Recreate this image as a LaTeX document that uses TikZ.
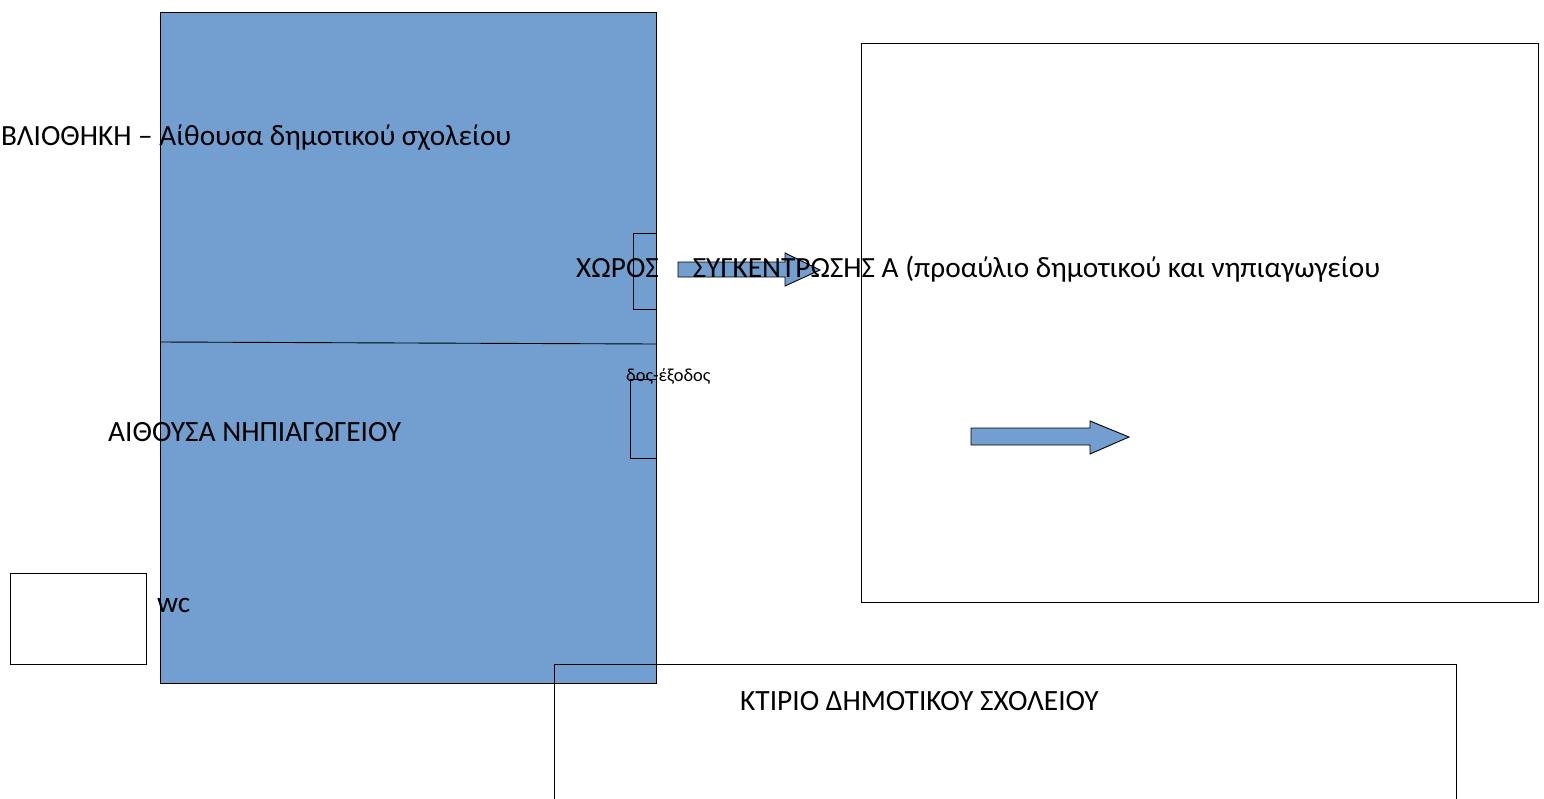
\documentclass[tikz,border=0pt]{standalone}
\usepackage{fontspec}
\setmainfont{Carlito}
\definecolor{roomblue}{HTML}{729FCF}
\tikzset{
  wall/.style={draw=black, line width=0.9pt},
  room/.style={wall, fill=roomblue},
  lbl/.style={inner sep=0pt, anchor=base west, text=black},
  bigtxt/.style={lbl, font=\fontsize{29.3}{35}\selectfont},
  midtxt/.style={lbl, font=\fontsize{29.4}{35}\selectfont},
  smalltxt/.style={lbl, font=\fontsize{18.4}{22}\selectfont},
  flowarrow/.style={draw=black, line width=0.9pt, fill=roomblue}
}
\begin{document}
\begin{tikzpicture}[x=1pt,y=-1pt]
\useasboundingbox (0,0) rectangle (1544,798);
\clip (0,0) rectangle (1544,798);
% main blue building
\draw[room] (160,12) rectangle (656,683);
\draw[wall] (160,342) -- (656,344);
% doors
\draw[wall] (633,233) rectangle (656,309);
\draw[wall] (630,379) rectangle (656,458);
% wc
\draw[wall] (10,573) rectangle (146,664);
% yard
\draw[wall] (861,43) rectangle (1538,602);
% primary school building
\draw[wall] (554,800) -- (554,664) -- (1456,664) -- (1456,800);
% arrows
\draw[flowarrow] (678,262) -- (785,262) -- (785,253) -- (820,270) -- (785,286) -- (785,277) -- (678,277) -- cycle;
\draw[flowarrow] (971,428) -- (1090,428) -- (1090,421) -- (1129,437) -- (1090,454) -- (1090,445) -- (971,445) -- cycle;
% labels
\node[bigtxt] (lib) at (1,145) {ΒΛΙΟΘΗΚΗ – Αίθουσα δημοτικού σχολείου};
\node[bigtxt] (yardlbl) at (576,277) {ΧΩΡΟΣ\hspace{34pt}ΣΥΓΚΕΝΤΡΩΣΗΣ Α (προαύλιο δημοτικού και νηπιαγωγείου};
\node[smalltxt] (exit) at (626,381) {δος-έξοδος};
\node[midtxt] (kinder) at (108,441) {ΑΙΘΟΥΣΑ ΝΗΠΙΑΓΩΓΕΙΟΥ};
\node[midtxt] (wc) at (157,612) {wc};
\node[midtxt] (school) at (740,710) {ΚΤΙΡΙΟ ΔΗΜΟΤΙΚΟΥ ΣΧΟΛΕΙΟΥ};
\end{tikzpicture}
\end{document}
